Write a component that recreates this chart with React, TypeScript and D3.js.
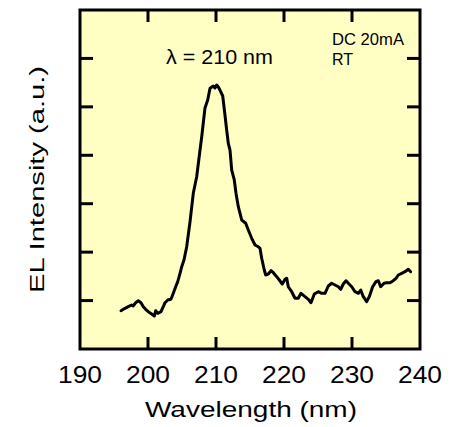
import React from "react";
import * as d3 from "d3";

const wavelength = [196.03,196.62,197.10,197.60,197.84,198.19,198.57,198.97,199.31,199.66,200.04,200.54,200.93,201.13,201.43,201.91,202.25,202.50,202.90,203.38,203.72,204.07,204.37,204.71,204.96,205.29,205.69,206.18,206.66,207.16,207.65,207.90,208.38,208.78,209.12,209.60,209.85,210.10,210.44,210.99,211.32,211.57,211.81,212.06,212.31,212.69,212.94,213.28,213.78,214.37,214.75,215.25,215.74,216.22,216.47,216.72,217.10,217.31,217.69,218.09,218.43,218.93,219.31,219.75,220.15,220.40,220.63,221.13,221.62,222.10,222.50,223.09,223.57,223.97,224.46,225.04,225.54,226.03,226.51,227.01,227.50,227.99,228.34,228.72,229.12,229.46,229.96,230.44,230.93,231.28,231.66,232.16,232.54,233.04,233.53,233.87,234.22,234.71,235.10,235.59,236.07,236.47,236.81,237.31,237.79,238.28,238.63];
const intensity = [0.791,0.840,0.873,0.909,0.888,0.956,0.997,0.956,0.873,0.820,0.770,0.723,0.681,0.791,0.737,0.770,0.873,0.956,1.012,1.026,1.150,1.286,1.390,1.563,1.699,1.838,2.112,2.629,3.215,3.558,4.109,4.384,4.976,5.141,5.383,5.431,5.389,5.451,5.389,5.224,4.832,4.522,4.247,4.109,3.696,3.490,3.215,2.938,2.664,2.596,2.457,2.286,2.147,2.112,2.079,1.873,1.631,1.528,1.549,1.617,1.576,1.493,1.425,1.342,1.439,1.460,1.286,1.183,1.047,1.047,1.150,1.080,1.026,0.956,1.136,1.183,1.150,1.150,1.301,1.357,1.322,1.286,1.233,1.342,1.410,1.357,1.286,1.183,1.150,1.218,1.080,0.977,1.080,1.286,1.390,1.410,1.286,1.357,1.369,1.369,1.410,1.460,1.528,1.563,1.596,1.646,1.596];
const xTickLabels = [190, 200, 210, 220, 230, 240];
const yTickValues = [1, 2, 3, 4, 5, 6];

export default function App() {
  const L = 80, R = 420, T = 10, B = 349;
  const x = d3.scaleLinear().domain([190, 240]).range([L, R]);
  const y = d3.scaleLinear().domain([0, 7]).range([B, T]);
  const pts = wavelength.map((w, i) => [w, intensity[i]] as [number, number]);
  const line = d3.line<[number, number]>().x(d => x(d[0])).y(d => y(d[1]));
  const font = "'Liberation Sans', Arial, Helvetica, sans-serif";
  const tl = 12;
  const inner = xTickLabels.filter(v => v !== 190 && v !== 240);
  return (
    <svg width={459} height={427} style={{ position: "absolute", left: 0, top: 0 }} fontFamily={font}>
      <rect x={0} y={0} width={459} height={427} fill="#ffffff" />
      <rect x={L} y={T} width={R - L} height={B - T} fill="#ffffc4" />
      {inner.map(v => (
        <g key={"xt" + v}>
          <line x1={x(v)} x2={x(v)} y1={B} y2={B - tl} stroke="#000" strokeWidth={3} />
          <line x1={x(v)} x2={x(v)} y1={T} y2={T + tl} stroke="#000" strokeWidth={3} />
        </g>
      ))}
      {yTickValues.map(v => (
        <g key={"yt" + v}>
          <line x1={L} x2={L + tl + 1} y1={y(v)} y2={y(v)} stroke="#000" strokeWidth={3} />
          <line x1={R} x2={R - tl - 1} y1={y(v)} y2={y(v)} stroke="#000" strokeWidth={3} />
        </g>
      ))}
      <path d={line(pts) || ""} fill="none" stroke="#000" strokeWidth={3} strokeLinejoin="round" strokeLinecap="round" />
      <rect x={L} y={T} width={R - L} height={B - T} fill="none" stroke="#000" strokeWidth={3} />
      {xTickLabels.map(v => (
        <text key={"xl" + v} x={x(v)} y={383} textAnchor="middle" fontSize={23} textLength={44} lengthAdjust="spacingAndGlyphs" fill="#000">{v}</text>
      ))}
      <text x={251} y={417} textAnchor="middle" fontSize={22} textLength={212} lengthAdjust="spacingAndGlyphs" fill="#000">Wavelength (nm)</text>
      <text transform={`translate(44,${(T + B) / 2}) rotate(-90)`} textAnchor="middle" fontSize={21} textLength={227} lengthAdjust="spacingAndGlyphs" fill="#000">EL Intensity (a.u.)</text>
      <text x={166} y={64} fontSize={19.5} textLength={107} lengthAdjust="spacingAndGlyphs" fill="#000">λ = 210 nm</text>
      <text x={332} y={45} fontSize={16} textLength={72} lengthAdjust="spacingAndGlyphs" fill="#000">DC 20mA</text>
      <text x={332} y={65} fontSize={16} fill="#000">RT</text>
    </svg>
  );
}
